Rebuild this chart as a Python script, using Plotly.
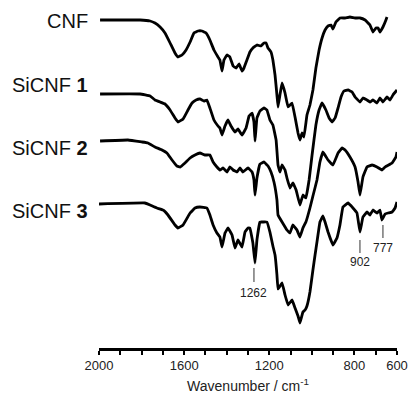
import plotly.graph_objects as go

# Wavenumbers (cm-1) and offset transmittance (arbitrary units)
cnf_wn = [1995, 1901, 1807, 1760, 1737, 1713, 1690, 1666, 1643, 1629, 1610, 1591, 1572, 1554, 1535, 1516, 1497, 1479, 1460, 1441,
          1432, 1422, 1413, 1399, 1385, 1370, 1356, 1342, 1328, 1319, 1305, 1291, 1277, 1258, 1239, 1225, 1215, 1206, 1192, 1183,
          1173, 1164, 1159, 1150, 1140, 1126, 1112, 1093, 1079, 1065, 1056, 1046, 1037, 1023, 1009, 995, 981, 966, 952, 938,
          924, 910, 901, 887, 868, 844, 821, 797, 774, 750, 727, 713, 699, 689, 680, 666, 652, 647]
cnf_t = [328, 328, 328, 327, 325, 321, 315, 305, 295, 291, 293, 298, 306, 315, 317, 317, 315, 308, 298, 291,
         288, 277, 288, 293, 291, 282, 280, 284, 277, 280, 288, 296, 300, 303, 302, 305, 305, 300, 296, 288,
         273, 253, 241, 253, 265, 255, 241, 245, 231, 215, 208, 215, 211, 233, 243, 258, 280, 298, 310, 318,
         322, 323, 319, 326, 330, 330, 331, 330, 330, 328, 323, 316, 320, 320, 316, 321, 328, 331]

si1_wn = [1995, 1807, 1760, 1737, 1713, 1690, 1666, 1643, 1629, 1605, 1582, 1563, 1544, 1526, 1507, 1493, 1479, 1460, 1441, 1432,
          1422, 1408, 1394, 1380, 1361, 1347, 1328, 1309, 1295, 1281, 1272, 1267, 1258, 1244, 1225, 1211, 1197, 1183, 1168, 1159,
          1150, 1140, 1126, 1117, 1103, 1089, 1074, 1056, 1042, 1028, 1013, 999, 981, 966, 952, 934, 919, 905, 891, 877,
          863, 849, 830, 811, 797, 774, 760, 741, 727, 713, 694, 680, 666, 647, 633, 619, 600]
si1_t = [254, 254, 252, 248, 246, 244, 238, 230, 226, 229, 238, 245, 248, 249, 247, 248, 240, 228, 222, 220,
         213, 222, 228, 222, 216, 219, 213, 220, 232, 235, 226, 207, 230, 237, 240, 238, 228, 223, 208, 183,
         176, 183, 178, 170, 160, 165, 158, 143, 153, 150, 168, 193, 223, 238, 245, 238, 230, 226, 230, 240,
         251, 257, 258, 256, 251, 246, 250, 248, 246, 248, 245, 250, 246, 251, 248, 253, 258]

si2_wn = [1995, 1864, 1798, 1770, 1737, 1704, 1681, 1657, 1634, 1619, 1596, 1572, 1549, 1526, 1502, 1479, 1464, 1446, 1432, 1417,
          1399, 1385, 1370, 1352, 1338, 1324, 1300, 1281, 1272, 1267, 1258, 1244, 1225, 1206, 1192, 1178, 1164, 1159, 1140, 1117,
          1103, 1089, 1070, 1056, 1042, 1028, 1009, 995, 976, 962, 948, 924, 901, 877, 858, 844, 821, 797, 783, 774,
          760, 741, 717, 694, 671, 656, 623, 605, 600]
si2_t = [207, 208, 206, 205, 201, 198, 195, 188, 182, 181, 185, 190, 193, 195, 193, 193, 186, 181, 178, 180,
         176, 181, 178, 176, 180, 176, 180, 176, 168, 153, 170, 184, 186, 182, 176, 166, 148, 133, 126, 118,
         115, 123, 118, 111, 120, 126, 140, 152, 168, 186, 196, 188, 183, 195, 200, 198, 191, 181, 166, 153,
         171, 181, 183, 181, 178, 181, 185, 191, 196]

si3_wn = [2000, 1784, 1760, 1728, 1699, 1676, 1643, 1629, 1605, 1572, 1549, 1526, 1493, 1479, 1464, 1446, 1432, 1422, 1408, 1394,
          1375, 1361, 1347, 1328, 1314, 1300, 1291, 1277, 1267, 1258, 1244, 1230, 1211, 1197, 1183, 1173, 1164, 1159, 1140, 1126,
          1112, 1093, 1079, 1065, 1056, 1042, 1032, 1023, 1009, 995, 985, 976, 962, 948, 938, 924, 901, 882, 868, 854,
          830, 807, 788, 774, 760, 741, 727, 713, 694, 680, 671, 656, 642, 623, 609, 600]
si3_t = [144, 145, 143, 140, 138, 133, 123, 120, 123, 135, 140, 141, 140, 133, 123, 115, 111, 101, 115, 120,
         113, 100, 108, 101, 116, 120, 120, 105, 85, 108, 126, 126, 126, 116, 102, 93, 73, 59, 65, 53,
         43, 48, 40, 32, 25, 36, 38, 42, 56, 78, 93, 106, 126, 132, 126, 116, 103, 110, 123, 141,
         145, 140, 135, 116, 131, 136, 133, 138, 135, 138, 128, 134, 135, 136, 140, 146]

series = [("CNF", cnf_wn, cnf_t), ("SiCNF 1", si1_wn, si1_t), ("SiCNF 2", si2_wn, si2_t), ("SiCNF 3", si3_wn, si3_t)]
label_texts = ["CNF", "SiCNF <b>1</b>", "SiCNF <b>2</b>", "SiCNF <b>3</b>"]
label_levels = [327, 263, 200, 137]

# peak markers on SiCNF 3: (label, position on axis, line bottom, line top, text level)
peak_labels = ["1262", "902", "777"]
peak_pos = [1272, 774, 666]
peak_line_lo = [66, 95, 110]
peak_line_hi = [80, 108, 123]
peak_text_y = [55, 86, 100]

tick_vals = list(range(2000, 599, -100))
tick_text = ["2000", " ", " ", " ", "1600", " ", " ", " ", "1200", " ", " ", " ", "800", " ", "600"]

fig = go.Figure()
for name, wn, t in series:
    fig.add_trace(go.Scatter(x=wn, y=t, mode="lines", name=name,
                             line=dict(color="black", width=2.8, shape="spline", smoothing=0.2),
                             showlegend=False, hoverinfo="skip"))

for txt, lvl in zip(label_texts, label_levels):
    fig.add_annotation(x=-0.03, xref="paper", y=lvl, yref="y", text=txt, showarrow=False,
                       xanchor="right", yanchor="middle",
                       font=dict(family="Liberation Sans, Arial", size=20, color="#111"))

for lab, pos, lo, hi, ty in zip(peak_labels, peak_pos, peak_line_lo, peak_line_hi, peak_text_y):
    fig.add_shape(type="line", x0=pos, x1=pos, y0=lo, y1=hi, xref="x", yref="y",
                  line=dict(color="#333", width=1))
    fig.add_annotation(x=pos, y=ty, xref="x", yref="y", text=lab, showarrow=False,
                       xanchor="center", yanchor="middle",
                       font=dict(family="Liberation Sans, Arial", size=12, color="#222"))

fig.update_layout(
    width=408, height=394,
    margin=dict(l=99, r=11, t=0, b=46),
    paper_bgcolor="white", plot_bgcolor="white",
    xaxis=dict(range=[2000, 600], tickvals=tick_vals, ticktext=tick_text,
               ticks="outside", ticklen=4, tickwidth=2, tickcolor="black",
               showline=True, linewidth=2.5, linecolor="black", showgrid=False, zeroline=False,
               tickfont=dict(family="Liberation Sans, Arial", size=13, color="#222"),
               title=dict(text="Wavenumber / cm<sup>-1</sup>", standoff=9,
                          font=dict(family="Liberation Sans, Arial", size=14, color="#222"))),
    yaxis=dict(range=[0, 348], visible=False, showgrid=False, zeroline=False),
)

fig.write_html("out.html")
